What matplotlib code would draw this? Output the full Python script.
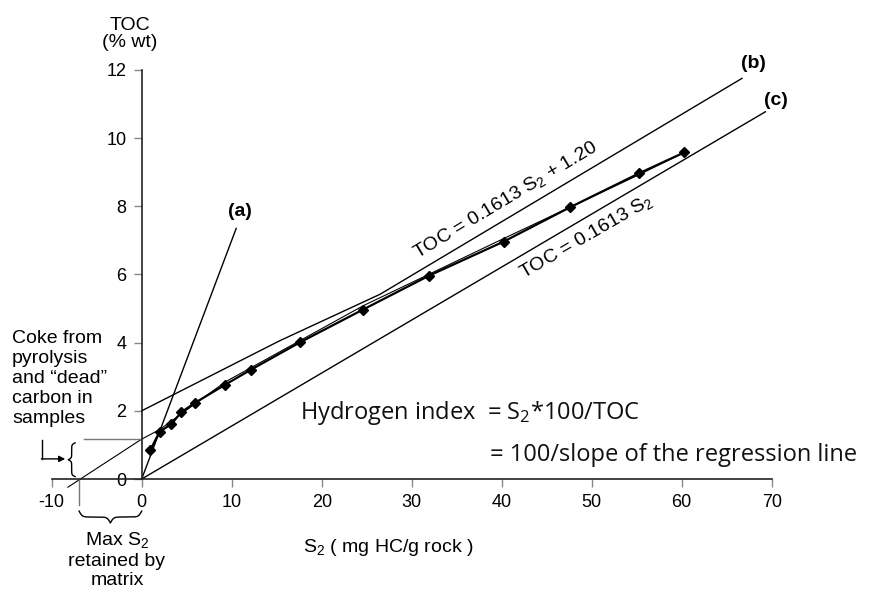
import numpy as np
import matplotlib
matplotlib.use("Agg")
import matplotlib.pyplot as plt

plt.rcParams['font.family'] = ['Liberation Sans', 'DejaVu Sans']
plt.rcParams['axes.unicode_minus'] = False

# sample points (S2 in mg HC/g rock, TOC in % wt)
s2 = [0.97, 2.0, 3.3, 4.4, 5.9, 9.3, 12.1, 17.6, 24.6, 31.9, 40.2, 47.6, 55.3, 60.3]
toc = [0.86, 1.39, 1.61, 1.96, 2.23, 2.77, 3.2, 4.01, 4.97, 5.96, 6.96, 7.97, 8.97, 9.58]

# fitted curve drawn next to the samples
fit_s2 = [-8.2, 0, 2.0, 9.3, 24.6, 40.2, 55.3, 60.3]
fit_toc = [-0.24, 1.17, 1.45, 2.85, 5.08, 7.05, 8.93, 9.58]

# reference lines (a), (b), (c)
a_s2, a_toc = [0, 10.5], [0, 7.35]
b_s2, b_toc = [0, 15.3, 26.5, 66.7], [2.0, 4.05, 5.42, 11.75]
c_s2, c_toc = [0, 69.3], [0, 10.77]

xticks = [-10, 0, 10, 20, 30, 40, 50, 60, 70]
yticks = [0, 2, 4, 6, 8, 10, 12]

fig = plt.figure(figsize=(8.76, 5.9), dpi=100)
ax = fig.add_axes([0.0025, 0.01475, 0.9966, 0.9536])
ax.set_xlim(-15.5, 81.5)
ax.set_ylim(-3, 13.5)

for sp in ['top', 'right']:
    ax.spines[sp].set_visible(False)
ax.spines['left'].set_position(('data', 0))
ax.spines['bottom'].set_position(('data', 0))
ax.spines['left'].set_bounds(0, 12)
ax.spines['bottom'].set_bounds(-10, 70)
for sp in ['left', 'bottom']:
    ax.spines[sp].set_color('#222222')
    ax.spines[sp].set_linewidth(1.2)
ax.set_xticks(xticks)
ax.set_yticks(yticks)
ax.tick_params(direction='out', length=6, width=1, color='#888888', labelsize=13, pad=5)
for lab in ax.get_yticklabels():
    if lab.get_text() == '0':
        lab.set_bbox(dict(facecolor='white', edgecolor='none', pad=0))

lw = 1.0
ax.plot(a_s2, a_toc, color='black', lw=lw)
ax.plot(b_s2, b_toc, color='black', lw=lw)
ax.plot(c_s2, c_toc, color='black', lw=lw)
ax.plot(fit_s2, fit_toc, color='black', lw=0.8)
ax.plot(s2, toc, color='black', lw=1.6, marker='D', ms=5.5)

# guide lines
ax.plot([-6.4, 0], [1.17, 1.17], color='#777777', lw=1)
ax.plot([-6.96, -6.96], [0, -0.76], color='#777777', lw=1)


def brace(x0, x1, pos, depth, vertical=False):
    u = np.linspace(0, 0.5, 101)
    beta = 40.0
    half = 1 / (1 + np.exp(-beta * (u - u[0]))) + 1 / (1 + np.exp(-beta * (u - u[-1])))
    shape = np.concatenate((half, half[-2::-1])) - 0.5
    t = np.linspace(x0, x1, shape.size)
    d = pos + depth * shape
    if vertical:
        ax.plot(d, t, color='black', lw=1)
    else:
        ax.plot(t, d, color='black', lw=1)


brace(-6.96, 0, -0.94, -0.35)
brace(0.07, 1.06, -7.4, -0.76, vertical=True)

# arrow into the left brace
ax.plot([-11.1, -11.1], [1.14, 0.59], color='black', lw=1)
ax.annotate('', xy=(-8.5, 0.59), xytext=(-11.15, 0.59),
            arrowprops=dict(arrowstyle='-|>', color='black', lw=1, mutation_scale=9,
                            shrinkA=0, shrinkB=0))

ax.text(-1.3, 13.05, 'TOC\n(% wt)', ha='center', va='center', fontsize=14, linespacing=1.0)
ax.text(27.4, -2.02, r'$\mathregular{S_2}$ ( mg HC/g rock )', ha='center', va='center', fontsize=14)
ax.text(-14.4, 2.95, 'Coke from\npyrolysis\nand \u201cdead\u201d\ncarbon in\nsamples',
        ha='left', va='center', fontsize=14, linespacing=1.22)
ax.text(-2.75, -2.37, 'Max $\\mathregular{S_2}$\nretained by\nmatrix', ha='center', va='center',
        fontsize=14, linespacing=1.2)

ax.text(10.9, 7.84, '(a)', ha='center', va='center', fontsize=14, fontweight='bold')
ax.text(68.0, 12.19, '(b)', ha='center', va='center', fontsize=14, fontweight='bold')
ax.text(70.5, 11.11, '(c)', ha='center', va='center', fontsize=14, fontweight='bold')

ax.text(40.4, 8.18, r'TOC = 0.1613 $\mathregular{S_2}$ + 1.20', ha='center', va='center',
        fontsize=14, rotation=31, rotation_mode='anchor')
ax.text(49.4, 7.1, r'TOC = 0.1613 $\mathregular{S_2}$', ha='center', va='center',
        fontsize=14, rotation=30, rotation_mode='anchor')

hfont = ['Open Sans', 'DejaVu Sans']
ax.text(17.6, 1.95, r'Hydrogen index  = $\mathregular{S_2}$*100/TOC', ha='left', va='center',
        fontsize=17, family=hfont, color='#111111')
ax.text(38.7, 0.7, '= 100/slope of the regression line', ha='left', va='center',
        fontsize=17, family=hfont, color='#111111')

fig.savefig('out.png', dpi=100)
